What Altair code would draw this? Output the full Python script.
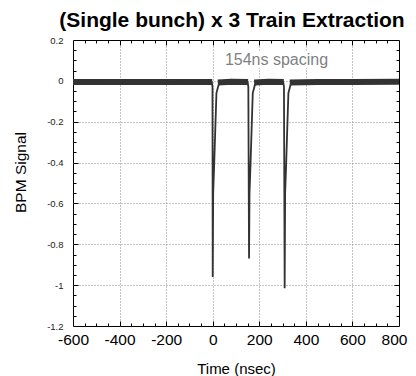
import altair as alt
import pandas as pd

# ---- data ----
# BPM trace (time in ns, signal)
trace_t = [-600, -500, -400, -300, -200, -100, -4, -1, 0, 2, 6, 11, 16, 25, 40, 100, 150,
           153, 156, 158, 162, 167, 172, 181, 196, 250, 303,
           306, 309, 311, 315, 320, 325, 334, 349, 400, 500, 600, 700, 800]
trace_v = [-0.006, -0.004, -0.007, -0.005, -0.006, -0.004, -0.006, -0.03, -0.96, -0.55, -0.42, -0.24, -0.06, -0.02, -0.006, -0.004, -0.006,
           -0.03, -0.87, -0.55, -0.42, -0.24, -0.06, -0.02, -0.006, -0.004, -0.006,
           -0.03, -1.015, -0.55, -0.42, -0.24, -0.06, -0.02, -0.006, -0.005, -0.004, -0.006, -0.005, -0.004]

# noisy baseline band segments (time in ns, signal, segment id)
band_t = [-600, -400, -200, -2, 22, 80, 152, 178, 240, 305, 331, 450, 600, 800]
band_v = [-0.006, -0.006, -0.005, -0.006, -0.008, -0.004, -0.006, -0.008, -0.004, -0.006, -0.008, -0.005, -0.006, -0.004]
band_seg = [1, 1, 1, 1, 2, 2, 2, 3, 3, 3, 4, 4, 4, 4]

# annotation
ann_text = ["154ns spacing"]
ann_x = [274]
ann_y = [0.103]
ann_box_x0 = [40]
ann_box_x1 = [504]
ann_box_y0 = [0.064]
ann_box_y1 = [0.147]

# axis ticks
x_label_vals = [-600, -400, -200, 0, 200, 400, 600, 800]
y_label_vals = [0.2, 0, -0.2, -0.4, -0.6, -0.8, -1, -1.2]
x_grid_vals = [-400, -200, 0, 200, 400, 600]
y_grid_vals = [0, -0.2, -0.4, -0.6, -0.8, -1]
x_minor_vals = [-550, -500, -450, -350, -300, -250, -150, -100, -50, 50, 100, 150,
                250, 300, 350, 450, 500, 550, 650, 700, 750]
y_minor_vals = [0.15, 0.1, 0.05, -0.05, -0.1, -0.15, -0.25, -0.3, -0.35, -0.45, -0.5, -0.55,
                -0.65, -0.7, -0.75, -0.85, -0.9, -0.95, -1.05, -1.1, -1.15]

trace = pd.DataFrame({"t": trace_t, "v": trace_v})
band = pd.DataFrame({"t": band_t, "v": band_v, "seg": band_seg})
ann = pd.DataFrame({"text": ann_text, "x": ann_x, "y": ann_y,
                    "x0": ann_box_x0, "x1": ann_box_x1, "y0": ann_box_y0, "y1": ann_box_y1})

FONT = "Liberation Sans"
xs = alt.Scale(domain=[-600, 800], nice=False, zero=False)
ys = alt.Scale(domain=[-1.2, 0.2], nice=False, zero=False)

lab_expr = "datum.value == 0 ? '0' : (datum.value < 0 ? '-' : '') + format(abs(datum.value), '~g')"

# main layer with labels and titles
main_x_axis = alt.Axis(orient="bottom", values=x_label_vals, tickSize=0, domain=False, grid=False,
                       labelFontSize=15.5, labelFont=FONT, labelColor="black", labelPadding=6,
                       labelOverlap=False, labelBound=False, labelFlush=False,
                       labelOffset={"condition": {"test": "datum.value == 800", "value": -5}, "value": 0},
                       labelExpr=lab_expr, title="Time (nsec)", titleFont=FONT, titleFontSize=15,
                       titleFontWeight="normal", titleColor="black", titleY=35, titleBaseline="top")
main_y_axis = alt.Axis(orient="left", values=y_label_vals, tickSize=0, domain=False, grid=False,
                       labelFontSize=9.5, labelFont=FONT, labelColor="#222222", labelPadding=10,
                       labelOverlap=False, labelBound=False, labelFlush=False,
                       labelExpr=lab_expr, title="BPM Signal", titleFont=FONT, titleFontSize=15.5,
                       titleFontWeight="normal", titleColor="black", titleX=-53, titleY=132,
                       titleBaseline="middle", titleAngle=270)

band_layer = alt.Chart(band).mark_line(color="#333333", strokeWidth=6, strokeCap="butt").encode(
    x=alt.X("t:Q", scale=xs, axis=main_x_axis),
    y=alt.Y("v:Q", scale=ys, axis=main_y_axis),
    detail="seg:N",
)

trace_layer = alt.Chart(trace).mark_line(color="#333333", strokeWidth=1.8).encode(
    x=alt.X("t:Q", scale=xs, axis=None),
    y=alt.Y("v:Q", scale=ys, axis=None),
)

box_layer = alt.Chart(ann).mark_rect(color="white").encode(
    x=alt.X("x0:Q", scale=xs, axis=None), x2="x1:Q",
    y=alt.Y("y0:Q", scale=ys, axis=None), y2="y1:Q",
)

text_layer = alt.Chart(ann).mark_text(font=FONT, fontSize=16, color="#7f7f7f",
                                      align="center", baseline="middle").encode(
    x=alt.X("x:Q", scale=xs, axis=None),
    y=alt.Y("y:Q", scale=ys, axis=None),
    text="text:N",
)


def tick_layer(xorient, yorient, xvals, yvals, size, grid):
    gx = dict(gridColor="#8a8a8a", gridDash=[1, 2], gridWidth=1) if grid else {}
    xa = alt.Axis(orient=xorient, values=xvals, tickSize=size, offset=-size, labels=False,
                  domain=False, grid=grid, title=None, tickColor="black", tickWidth=1, **gx)
    ya = alt.Axis(orient=yorient, values=yvals, tickSize=size, offset=-size, labels=False,
                  domain=False, grid=grid, title=None, tickColor="black", tickWidth=1, **gx)
    return alt.Chart(trace).mark_point(opacity=0).encode(
        x=alt.X("t:Q", scale=xs, axis=xa),
        y=alt.Y("v:Q", scale=ys, axis=ya),
    )


t1 = tick_layer("bottom", "left", x_grid_vals, y_grid_vals, 5, True)
t2 = tick_layer("bottom", "left", x_minor_vals, y_minor_vals, 3, False)
t3 = tick_layer("top", "right", x_grid_vals, y_grid_vals, 5, False)
t4 = tick_layer("top", "right", x_minor_vals, y_minor_vals, 3, False)

chart = alt.layer(t1, t2, t3, t4, box_layer, text_layer, band_layer, trace_layer).resolve_scale(
    x="shared", y="shared"
).resolve_axis(
    x="independent", y="independent"
).properties(
    width=326,
    height=286,
    title=alt.TitleParams("(Single bunch) x 3 Train Extraction", fontSize=21, fontWeight="bold",
                          font=FONT, anchor="middle", offset=4, dx=-4, color="black"),
    autosize=alt.AutoSizeParams(type="none"),
    padding={"left": 65, "top": 32, "right": 9, "bottom": 50},
).configure_view(stroke="black", strokeWidth=1)

chart.save("out.html", embed_options={"renderer": "svg", "actions": False})
